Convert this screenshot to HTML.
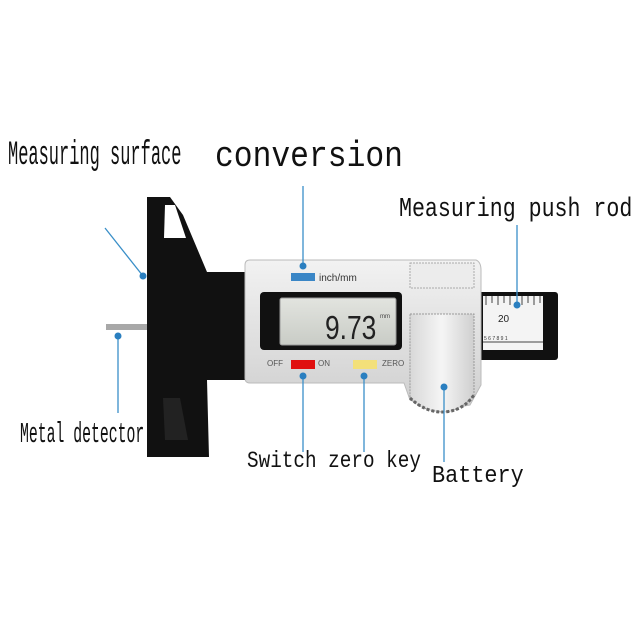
<!DOCTYPE html>
<html><head><style>
html,body{margin:0;padding:0;background:#fff;}
#c{position:relative;width:640px;height:640px;overflow:hidden;background:#fff;}
.t{position:absolute;font-family:"Liberation Mono",monospace;color:#111;line-height:1;white-space:nowrap;transform-origin:0 0;}
</style></head><body><div id="c">
<svg width="640" height="640" style="position:absolute;left:0;top:0">
<defs>
<linearGradient id="sil" x1="0" y1="0" x2="0" y2="1"><stop offset="0" stop-color="#f2f2f2"/><stop offset="0.5" stop-color="#e0e0e0"/><stop offset="1" stop-color="#cfcfcf"/></linearGradient>
<linearGradient id="whl" x1="0" y1="0" x2="1" y2="0"><stop offset="0" stop-color="#d8d8d8"/><stop offset="0.5" stop-color="#f5f5f5"/><stop offset="1" stop-color="#cfcfcf"/></linearGradient>
<linearGradient id="lcd" x1="0" y1="0" x2="0" y2="1"><stop offset="0" stop-color="#e2e4df"/><stop offset="1" stop-color="#c9ccc6"/></linearGradient>
</defs>
<!-- pin -->
<rect x="106" y="324" width="42" height="6" fill="#a8a8a8"/>
<!-- black body -->
<path d="M147,197 L170,197 L183,215 L207,272 L248,272 L248,380 L207,380 L209,457 L147,457 Z" fill="#111"/>
<path d="M165,205 L175,205 L186,238 L164,238 Z" fill="#fff"/>
<path d="M163,398 L180,398 L188,440 L165,440 Z" fill="#222"/>
<!-- rod -->
<rect x="478" y="292" width="80" height="68" rx="3" fill="#111"/>
<rect x="483" y="296" width="60" height="54" fill="#f4f4f4"/>
<g stroke="#444" stroke-width="1">
<line x1="486" y1="296" x2="486" y2="305"/><line x1="492" y1="296" x2="492" y2="303"/><line x1="498" y1="296" x2="498" y2="305"/><line x1="504" y1="296" x2="504" y2="303"/><line x1="510" y1="296" x2="510" y2="305"/><line x1="522" y1="296" x2="522" y2="305"/><line x1="528" y1="296" x2="528" y2="303"/><line x1="534" y1="296" x2="534" y2="305"/><line x1="540" y1="296" x2="540" y2="303"/>
<line x1="483" y1="342" x2="543" y2="342"/>
</g>
<text x="498" y="322" font-family="Liberation Sans,sans-serif" font-size="10" fill="#222">20</text>
<text x="484" y="340" font-family="Liberation Sans,sans-serif" font-size="5" fill="#333">5 6 7 8 9 1</text>
<!-- silver body -->
<path d="M250,260 L476,260 Q481,262 481,270 L481,385 L470,405 L440,410 L410,400 L404,383 L250,383 Q245,383 245,378 L245,265 Q245,260 250,260 Z" fill="url(#sil)" stroke="#bbb"/>
<rect x="410" y="263" width="64" height="25" fill="#ececec" stroke="#aaa" stroke-dasharray="2,1"/>
<path d="M410,314 L474,314 L474,395 Q460,412 442,412 Q420,410 410,398 Z" fill="url(#whl)" stroke="#999" stroke-dasharray="2,1"/>
<path d="M410,398 Q425,412 442,412 Q462,412 474,395" fill="none" stroke="#666" stroke-width="3" stroke-dasharray="3,2"/>
<!-- LCD -->
<rect x="260" y="292" width="142" height="58" rx="4" fill="#111"/>
<rect x="280" y="298" width="116" height="47" rx="2" fill="url(#lcd)" stroke="#999"/>
<text x="325" y="339" font-family="Liberation Sans,sans-serif" font-size="33" fill="#222" transform="translate(325,339) scale(0.8,1) translate(-325,-339)">9.73</text>
<text x="380" y="318" font-family="Liberation Sans,sans-serif" font-size="6" fill="#444">mm</text>
<!-- buttons -->
<rect x="291" y="273" width="24" height="8" fill="#3a86c6"/>
<text x="319" y="281" font-family="Liberation Sans,sans-serif" font-size="10" fill="#333">inch/mm</text>
<rect x="291" y="360" width="24" height="9" fill="#e01010"/>
<rect x="353" y="360" width="24" height="9" fill="#f3e07a"/>
<text x="267" y="366" font-family="Liberation Sans,sans-serif" font-size="8" fill="#555">OFF</text>
<text x="318" y="366" font-family="Liberation Sans,sans-serif" font-size="8" fill="#555">ON</text>
<text x="382" y="366" font-family="Liberation Sans,sans-serif" font-size="8" fill="#555">ZERO</text>
<!-- leader lines -->
<g stroke="#3a8fc8" stroke-width="1.3" fill="#2a7fc0">
<line x1="105" y1="228" x2="143" y2="276"/><circle cx="143" cy="276" r="3.5" stroke="none"/>
<line x1="303" y1="186" x2="303" y2="266"/><circle cx="303" cy="266" r="3.5" stroke="none"/>
<line x1="517" y1="225" x2="517" y2="305"/><circle cx="517" cy="305" r="3.5" stroke="none"/>
<line x1="118" y1="336" x2="118" y2="413"/><circle cx="118" cy="336" r="3.5" stroke="none"/>
<line x1="303" y1="376" x2="303" y2="452"/><circle cx="303" cy="376" r="3.5" stroke="none"/>
<line x1="364" y1="376" x2="364" y2="452"/><circle cx="364" cy="376" r="3.5" stroke="none"/>
<line x1="444" y1="387" x2="444" y2="462"/><circle cx="444" cy="387" r="3.5" stroke="none"/>
</g>
</svg>
<span class="t" style="left:8px;top:139px;font-size:34px;transform:scaleX(0.5)">Measuring surface</span>
<span class="t" style="left:215px;top:139px;font-size:36px;transform:scaleX(0.87)">conversion</span>
<span class="t" style="left:399px;top:197px;font-size:27px;transform:scaleX(0.8)">Measuring push rod</span>
<span class="t" style="left:20px;top:420px;font-size:29px;transform:scaleX(0.51)">Metal detector</span>
<span class="t" style="left:247px;top:450px;font-size:23px;transform:scaleX(0.84)">Switch zero key</span>
<span class="t" style="left:432px;top:465px;font-size:24px;transform:scaleX(0.91)">Battery</span>
</div></body></html>
